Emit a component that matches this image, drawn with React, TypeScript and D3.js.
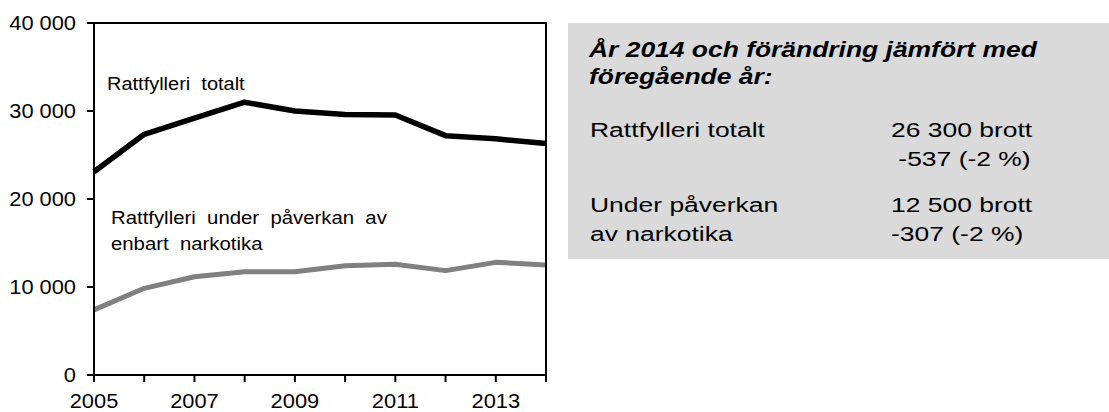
import { useEffect, useRef } from 'react'
import * as d3 from 'd3'

const years = [2005, 2006, 2007, 2008, 2009, 2010, 2011, 2012, 2013, 2014]
const totalt = [23100, 27350, 29200, 31000, 30000, 29600, 29550, 27200, 26840, 26300]
const narkotika = [7400, 9850, 11170, 11740, 11740, 12420, 12580, 11860, 12800, 12500]
const yTicks = [0, 10000, 20000, 30000, 40000]
const xLabels = [2005, 2007, 2009, 2011, 2013]

const boxTitle = ['År 2014 och förändring jämfört med', 'föregående år:']
const boxRows = [
  { left: ['Rattfylleri totalt', ''], right: ['26 300 brott', ' -537 (-2 %)'] },
  { left: ['Under påverkan', 'av narkotika'], right: ['12 500 brott', '-307 (-2 %)'] },
]

const W = 1109
const H = 412
const FONT = '"Liberation Sans", Arial, sans-serif'

export default function App() {
  const ref = useRef<SVGSVGElement>(null)

  useEffect(() => {
    if (!ref.current) return
    const svg = d3.select(ref.current)
    svg.selectAll('*').remove()

    const left = 94, right = 546, top = 23, bottom = 375

    const x = d3.scaleLinear().domain([2005, 2014]).range([left, right])
    const y = d3.scaleLinear().domain([0, 40000]).range([bottom, top])

    // stretched text helper (the source picture is wider than tall)
    const label = (g: any, tx: number, ty: number, txt: string, size: number, sx: number, anchor = 'start', weight = 'normal', style = 'normal') =>
      g.append('text')
        .attr('transform', `translate(${tx},${ty}) scale(${sx},1)`)
        .attr('text-anchor', anchor)
        .style('font-family', FONT)
        .style('font-size', `${size}px`)
        .style('font-weight', weight)
        .style('font-style', style)
        .style('white-space', 'pre')
        .attr('fill', '#000')
        .text(txt)

    const chart = svg.append('g')

    // y ticks and labels
    yTicks.forEach(v => {
      chart.append('line')
        .attr('x1', left - 7).attr('x2', left)
        .attr('y1', y(v)).attr('y2', y(v))
        .attr('stroke', '#000').attr('stroke-width', 2)
      label(chart, left - 18, y(v) + 7, d3.format(',')(v).replace(/,/g, ' '), 19.5, 1.12, 'end')
    })

    // x ticks
    years.forEach(yr => {
      chart.append('line')
        .attr('x1', x(yr)).attr('x2', x(yr))
        .attr('y1', bottom).attr('y2', bottom + 7)
        .attr('stroke', '#000').attr('stroke-width', 2)
    })
    xLabels.forEach(yr => {
      label(chart, x(yr), 408, String(yr), 19.5, 1.12, 'middle')
    })

    const line = d3.line<number>()
      .x((_, i) => x(years[i]))
      .y(d => y(d))

    chart.append('path')
      .attr('d', line(narkotika))
      .attr('fill', 'none')
      .attr('stroke', '#808080')
      .attr('stroke-width', 5)
      .attr('stroke-linejoin', 'round')

    chart.append('path')
      .attr('d', line(totalt))
      .attr('fill', 'none')
      .attr('stroke', '#000')
      .attr('stroke-width', 5.5)
      .attr('stroke-linejoin', 'round')

    // frame
    chart.append('rect')
      .attr('x', left).attr('y', top)
      .attr('width', right - left).attr('height', bottom - top)
      .attr('fill', 'none')
      .attr('stroke', '#000')
      .attr('stroke-width', 2)

    // series labels
    label(chart, 107, 90, 'Rattfylleri  totalt', 18.5, 1.08)
    label(chart, 111, 224, 'Rattfylleri  under  påverkan  av', 18.5, 1.1)
    label(chart, 111, 250, 'enbart  narkotika', 18.5, 1.1)

    // fact box
    const box = svg.append('g')
    box.append('rect')
      .attr('x', 568).attr('y', 23)
      .attr('width', W - 568).attr('height', 259 - 23)
      .attr('fill', '#dadada')

    boxTitle.forEach((t, i) => {
      label(box, 589, 57 + i * 27, t, 21.5, 1.23, 'start', 'bold', 'italic')
    })

    const rowY = [137, 212]
    boxRows.forEach((r, i) => {
      r.left.forEach((t, j) => { if (t) label(box, 590, rowY[i] + j * 29, t, 21, 1.26) })
      r.right.forEach((t, j) => label(box, 891, rowY[i] + j * 29, t, 21, 1.26))
    })
  }, [])

  return (
    <svg ref={ref} width={W} height={H}
      style={{ position: 'absolute', left: 0, top: 0, background: '#fff' }} />
  )
}
